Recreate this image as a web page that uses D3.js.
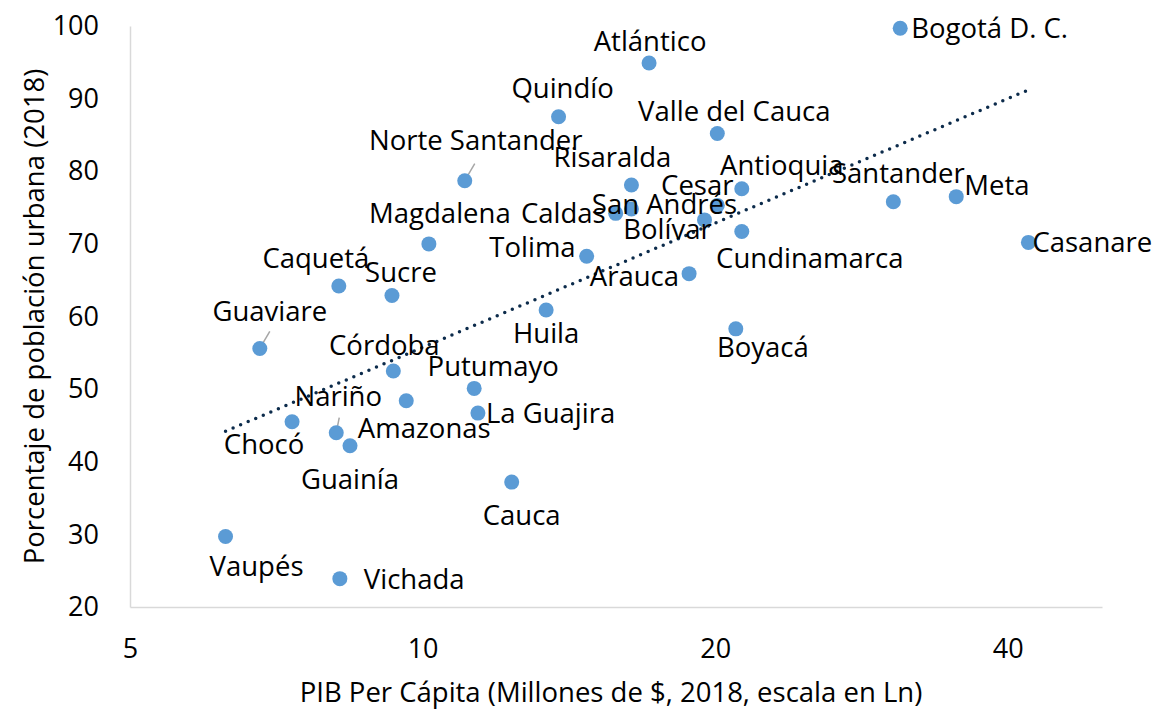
<!DOCTYPE html>
<html>
<head>
<meta charset="utf-8">
<script src="https://cdn.jsdelivr.net/npm/d3@7"></script>
<style>
  body { margin: 0; background: #fff; }
  text { font-family: "Open Sans", sans-serif; fill: #000; }
</style>
</head>
<body>
<div id="chart"></div>
<script>
// Departamentos, PIB per cápita (millones de $) y % población urbana, 2018
const departamentos = ["Bogotá D. C.", "Atlántico", "Quindío", "Valle del Cauca", "Norte Santander",
  "Risaralda", "Antioquia", "Cesar", "San Andrés", "Caldas", "Bolívar", "Cundinamarca",
  "Magdalena", "Tolima", "Arauca", "Sucre", "Huila", "Boyacá", "Caquetá", "Guaviare",
  "Córdoba", "Putumayo", "Amazonas", "Nariño", "La Guajira", "Chocó", "Guainía", "Cauca",
  "Vaupés", "Vichada", "Santander", "Meta", "Casanare"];
const pibPerCapita = [31.0, 17.1, 13.8, 20.1, 11.05, 16.4, 21.3, 20.1, 16.4, 15.8, 19.5, 21.3,
  10.15, 14.75, 18.8, 9.3, 13.4, 21.0, 8.2, 6.8, 9.33, 11.3, 9.62, 8.15, 11.4, 7.34, 8.42, 12.35,
  6.27, 8.22, 30.5, 35.4, 42.0];
const poblacionUrbana = [99.7, 94.9, 87.5, 85.2, 78.7, 78.1, 77.6, 75.3, 74.8, 74.2, 73.3, 71.7,
  70.0, 68.3, 65.9, 62.9, 60.9, 58.3, 64.2, 55.6, 52.5, 50.1, 48.4, 44.0, 46.7, 45.5, 42.2, 37.2,
  29.7, 23.9, 75.8, 76.5, 70.2];
const xTicks = [5, 10, 20, 40];
const yTicks = [20, 30, 40, 50, 60, 70, 80, 90, 100];

// label placement: [anchor, dx, dy] from the dot centre to the label centre line
const labelPos = {
  "Bogotá D. C.": ["start", 11, 0], "Atlántico": ["middle", 1, -22], "Quindío": ["middle", 4, -29],
  "Valle del Cauca": ["middle", 17, -22], "Norte Santander": ["middle", 11, -41],
  "Risaralda": ["middle", -19, -28], "Antioquia": ["middle", 40, -24], "Cesar": ["middle", -20, -20],
  "San Andrés": ["middle", 33, -5], "Caldas": ["end", -10, 0], "Bolívar": ["middle", -37, 9],
  "Cundinamarca": ["middle", 68, 27], "Magdalena": ["middle", 11, -31], "Tolima": ["end", -11, -9],
  "Arauca": ["end", -10, 2], "Sucre": ["middle", 9, -23], "Huila": ["middle", 0, 23],
  "Boyacá": ["middle", 27, 18], "Caquetá": ["middle", -23, -28], "Guaviare": ["middle", 10, -37],
  "Córdoba": ["middle", -9, -26], "Putumayo": ["middle", 19, -22], "Amazonas": ["middle", 18, 27],
  "Nariño": ["middle", 2, -37], "La Guajira": ["start", 8, 0], "Chocó": ["middle", -28, 22],
  "Guainía": ["middle", 0, 33], "Cauca": ["middle", 10, 33], "Vaupés": ["middle", 31, 30],
  "Vichada": ["start", 24, 0], "Santander": ["middle", 5, -29], "Meta": ["start", 8, -12],
  "Casanare": ["start", 4, 0]
};
const leaders = ["Norte Santander", "Guaviare", "Nariño"];

const width = 1175, height = 710;
const margin = { top: 26, right: 73, bottom: 103, left: 130 };
const fontSize = 27.5;

const data = departamentos.map((d, i) => ({ name: d, x: pibPerCapita[i], y: poblacionUrbana[i] }));

const x = d3.scaleLog()
  .domain([5, 50])
  .range([margin.left, width - margin.right]);

const y = d3.scaleLinear()
  .domain([20, 100])
  .range([height - margin.bottom, margin.top]);

const svg = d3.select("#chart")
  .append("svg")
  .attr("width", width)
  .attr("height", height);

// axes
svg.append("g")
  .attr("transform", `translate(0,${height - margin.bottom})`)
  .call(d3.axisBottom(x).tickValues(xTicks).tickFormat(d3.format("d")).tickSize(0).tickPadding(32))
  .call(g => g.select(".domain").attr("stroke", "#d9d9d9").attr("stroke-width", 1.5))
  .call(g => g.selectAll("text").attr("font-size", 27).attr("font-family", "Open Sans"));

svg.append("g")
  .attr("transform", `translate(${margin.left},0)`)
  .call(d3.axisLeft(y).tickValues(yTicks).tickSize(0).tickPadding(31))
  .call(g => g.select(".domain").attr("stroke", "#d9d9d9").attr("stroke-width", 1.5))
  .call(g => g.selectAll("text").attr("font-size", 27).attr("font-family", "Open Sans"));

// axis titles
svg.append("text")
  .attr("x", (margin.left + width - margin.right) / 2 - 5)
  .attr("y", 692)
  .attr("dy", "0.36em")
  .attr("text-anchor", "middle")
  .attr("font-size", fontSize)
  .text("PIB Per Cápita (Millones de $, 2018, escala en Ln)");

svg.append("text")
  .attr("transform", `translate(34,${(margin.top + height - margin.bottom) / 2}) rotate(-90)`)
  .attr("dy", "0.36em")
  .attr("text-anchor", "middle")
  .attr("font-size", fontSize)
  .text("Porcentaje de población urbana (2018)");

// logarithmic trend line (least squares on ln x)
const lx = data.map(d => Math.log(d.x));
const mx = d3.mean(lx), my = d3.mean(data, d => d.y);
const slope = d3.sum(data, (d, i) => (lx[i] - mx) * (d.y - my)) / d3.sum(lx, v => (v - mx) * (v - mx));
const intercept = my - slope * mx;
const [xmin, xmax] = d3.extent(data, d => d.x);
const trend = d3.range(0, 41).map(i => {
  const v = Math.exp(Math.log(xmin) + (Math.log(xmax) - Math.log(xmin)) * i / 40);
  return { x: v, y: intercept + slope * Math.log(v) };
});

svg.append("path")
  .datum(trend)
  .attr("fill", "none")
  .attr("stroke", "#0c2b4b")
  .attr("stroke-width", 3.5)
  .attr("stroke-linecap", "round")
  .attr("stroke-dasharray", "0,8.2")
  .attr("d", d3.line().x(d => x(d.x)).y(d => y(d.y)));

// leader lines
svg.selectAll(".leader")
  .data(data.filter(d => leaders.includes(d.name)))
  .enter()
  .append("line")
  .attr("class", "leader")
  .attr("x1", d => x(d.x))
  .attr("y1", d => y(d.y))
  .attr("x2", d => x(d.x) + (d.name === "Nariño" ? 3 : 10))
  .attr("y2", d => y(d.y) - (d.name === "Nariño" ? 15 : 17))
  .attr("stroke", "#a6a6a6")
  .attr("stroke-width", 1.5);

// points
svg.selectAll(".dot")
  .data(data)
  .enter()
  .append("circle")
  .attr("class", "dot")
  .attr("cx", d => x(d.x))
  .attr("cy", d => y(d.y))
  .attr("r", 7.5)
  .attr("fill", "#5b9bd5");

// labels
svg.selectAll(".label")
  .data(data)
  .enter()
  .append("text")
  .attr("class", "label")
  .attr("x", d => x(d.x) + labelPos[d.name][1])
  .attr("y", d => y(d.y) + labelPos[d.name][2])
  .attr("dy", "0.36em")
  .attr("text-anchor", d => labelPos[d.name][0])
  .attr("font-size", fontSize)
  .text(d => d.name);
</script>
</body>
</html>
